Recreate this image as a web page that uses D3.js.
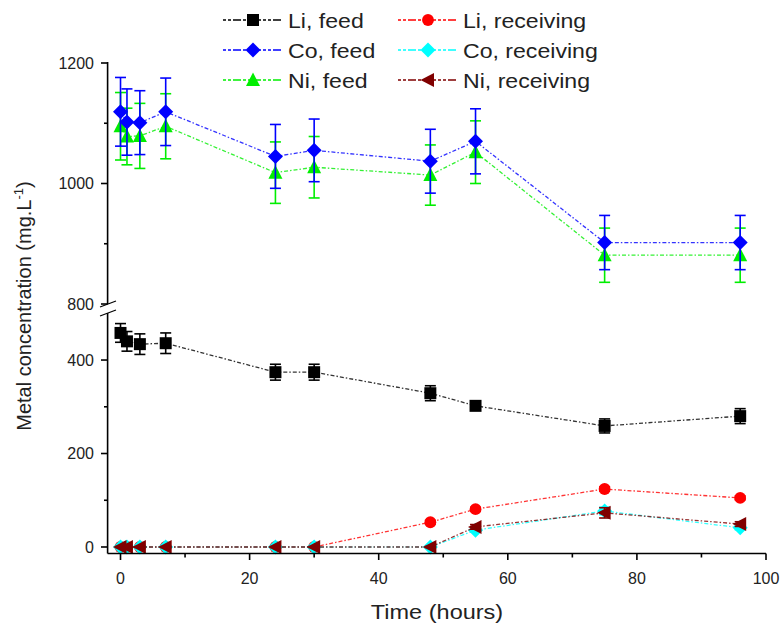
<!DOCTYPE html>
<html><head><meta charset="utf-8">
<script src="https://cdn.jsdelivr.net/npm/d3@7"></script>
<style>body{margin:0;background:#fff}svg{display:block}text{font-family:"Liberation Sans",Arial,sans-serif}</style>
</head><body>
<svg id="c" width="781" height="624"></svg>
<script>
const times = [0, 1, 3, 7, 24, 30, 48, 55, 75, 96];
const liFeed = [458, 440, 434, 436, 374, 374, 329, 302, 259, 280];
const liFeedErr = [20, 21, 22, 22, 17, 17, 16, 8, 15, 16];
const liRecv = [0, 0, 0, 0, 0, 0, 53, 81, 124, 105];
const liRecvErr = [2, 2, 2, 2, 2, 2, 4, 4, 5, 4];
const coFeed = [1119, 1102, 1101, 1119, 1045, 1055, 1037, 1070, 902, 902];
const coFeedErr = [57, 55, 53, 56, 53, 52, 53, 54, 45, 45];
const coRecv = [0, 0, 0, 0, 0, 0, 0, 36, 77, 41];
const coRecvErr = [1, 1, 1, 1, 1, 1, 1, 4, 8, 4];
const niFeed = [1095, 1078, 1079, 1095, 1018, 1027, 1014, 1052, 881, 881];
const niFeedErr = [56, 47, 54, 54, 51, 51, 50, 52, 45, 45];
const niRecv = [0, 0, 0, 0, 0, 0, 0, 43, 73, 49];
const niRecvErr = [1, 1, 1, 1, 1, 1, 1, 5, 11, 5];
const xTicks = [0, 20, 40, 60, 80, 100];
const xMinor = [10, 30, 50, 70, 90];
const upTicks = [800, 1000, 1200];
const upMinor = [900, 1100];
const loTicks = [0, 200, 400];
const loMinor = [100, 300];

const svg = d3.select("#c");
const x = d3.scaleLinear().domain([-2, 100]).range([107.6, 766]);
const yUp = d3.scaleLinear().domain([800, 1200]).range([304, 63]);
const yLo = d3.scaleLinear().domain([-15, 500]).range([554, 313.3]);
const axisY = 553.5;

const series = [
  {name: "Li, feed", v: liFeed, e: liFeedErr, color: "#000000", sym: "square", y: yLo},
  {name: "Li, receiving", v: liRecv, e: liRecvErr, color: "#ff0000", sym: "circle", y: yLo},
  {name: "Ni, feed", v: niFeed, e: niFeedErr, color: "#00ee00", sym: "tri-up", y: yUp},
  {name: "Co, feed", v: coFeed, e: coFeedErr, color: "#0000ff", sym: "diamond", y: yUp},
  {name: "Co, receiving", v: coRecv, e: coRecvErr, color: "#00ffff", sym: "diamond", y: yLo},
  {name: "Ni, receiving", v: niRecv, e: niRecvErr, color: "#800000", sym: "tri-left", y: yLo},
];

function symPath(sym) {
  switch (sym) {
    case "square": return "M-6,-6H6V6H-6Z";
    case "circle": return d3.symbol(d3.symbolCircle, 110)();
    case "diamond": return "M0,-7.5L7.5,0L0,7.5L-7.5,0Z";
    case "tri-up": return "M0,-7.5L7,6L-7,6Z";
    case "tri-left": return "M-7.5,0L6,-7L6,7Z";
  }
}
const dash = "4,2,1.5,2";

const g = svg.append("g");
series.forEach(s => {
  const pts = times.map((t, i) => [x(t), s.y(s.v[i]), s.y(s.v[i] + s.e[i]), s.y(s.v[i] - s.e[i])]);
  g.append("path").attr("d", d3.line()(pts.map(p => [p[0], p[1]])))
    .attr("fill", "none").attr("stroke", s.color).attr("stroke-width", 1.3)
    .attr("stroke-dasharray", dash).attr("opacity", 0.8);
  const eb = g.append("g").attr("stroke", s.color).attr("stroke-width", 1.6);
  pts.forEach(p => {
    eb.append("line").attr("x1", p[0]).attr("x2", p[0]).attr("y1", p[2]).attr("y2", p[3]);
    eb.append("line").attr("x1", p[0] - 5.5).attr("x2", p[0] + 5.5).attr("y1", p[2]).attr("y2", p[2]);
    eb.append("line").attr("x1", p[0] - 5.5).attr("x2", p[0] + 5.5).attr("y1", p[3]).attr("y2", p[3]);
  });
  pts.forEach(p => {
    g.append("path").attr("d", symPath(s.sym)).attr("transform", `translate(${p[0]},${p[1]})`)
      .attr("fill", s.color);
  });
});

// axes
const ax = svg.append("g").attr("stroke", "#000").attr("stroke-width", 1.6).attr("fill", "none");
ax.append("line").attr("x1", 107.6).attr("x2", 107.6).attr("y1", 62).attr("y2", 304);
ax.append("line").attr("x1", 107.6).attr("x2", 107.6).attr("y1", 313).attr("y2", axisY);
ax.append("line").attr("x1", 107.6).attr("x2", 766).attr("y1", axisY).attr("y2", axisY);
// break marks
ax.append("line").attr("x1", 100).attr("x2", 116).attr("y1", 307).attr("y2", 301).attr("stroke-width", 1.2);
ax.append("line").attr("x1", 100).attr("x2", 116).attr("y1", 316).attr("y2", 310).attr("stroke-width", 1.2);

upTicks.forEach(v => ax.append("line").attr("x1", 101).attr("x2", 107.6).attr("y1", yUp(v)).attr("y2", yUp(v)));
upMinor.forEach(v => ax.append("line").attr("x1", 104).attr("x2", 107.6).attr("y1", yUp(v)).attr("y2", yUp(v)));
loTicks.forEach(v => ax.append("line").attr("x1", 101).attr("x2", 107.6).attr("y1", yLo(v)).attr("y2", yLo(v)));
loMinor.forEach(v => ax.append("line").attr("x1", 104).attr("x2", 107.6).attr("y1", yLo(v)).attr("y2", yLo(v)));
xTicks.forEach(v => ax.append("line").attr("x1", x(v)).attr("x2", x(v)).attr("y1", axisY).attr("y2", axisY + 6.5));
xMinor.forEach(v => ax.append("line").attr("x1", x(v)).attr("x2", x(v)).attr("y1", axisY).attr("y2", axisY + 4));

const lab = svg.append("g").attr("font-size", 16).attr("fill", "#222");
upTicks.forEach(v => lab.append("text").attr("x", 94).attr("y", yUp(v)).attr("dy", "0.36em").attr("text-anchor", "end").text(v));
loTicks.forEach(v => lab.append("text").attr("x", 94).attr("y", yLo(v)).attr("dy", "0.36em").attr("text-anchor", "end").text(v));
xTicks.forEach(v => lab.append("text").attr("x", x(v)).attr("y", 584).attr("text-anchor", "middle").text(v));

svg.append("text").attr("transform", "translate(437,619) scale(1.12,1)").attr("text-anchor", "middle")
  .attr("font-size", 21).attr("fill", "#222").text("Time (hours)");
const yt = svg.append("text").attr("transform", "translate(31,306) rotate(-90)").attr("text-anchor", "middle").attr("font-size", 20).attr("fill", "#222");
yt.append("tspan").text("Metal concentration (mg.L");
yt.append("tspan").attr("font-size", 13).attr("dy", -8).text("-1");
yt.append("tspan").attr("dy", 8).text(")");

// legend
const legendOrder = [
  ["Li, feed", 0, 0], ["Li, receiving", 1, 0],
  ["Co, feed", 0, 1], ["Co, receiving", 1, 1],
  ["Ni, feed", 0, 2], ["Ni, receiving", 1, 2],
];
const colX = [223, 398], rowY = [20, 50, 80];
legendOrder.forEach(([name, c, r]) => {
  const s = series.find(d => d.name === name);
  const lx = colX[c], ly = rowY[r];
  const lg = svg.append("g");
  lg.append("line").attr("x1", lx).attr("x2", lx + 59).attr("y1", ly).attr("y2", ly)
    .attr("stroke", s.color).attr("stroke-width", 1.4).attr("stroke-dasharray", "3,2,3,2,8,2");
  lg.append("path").attr("d", symPath(s.sym)).attr("transform", `translate(${lx + 30},${ly})`).attr("fill", s.color);
  lg.append("text").attr("transform", `translate(${lx + 65},${ly}) scale(1.1,1)`).attr("dy", "0.36em")
    .attr("font-size", 21).attr("fill", "#222").text(name);
});
</script>
</body></html>
